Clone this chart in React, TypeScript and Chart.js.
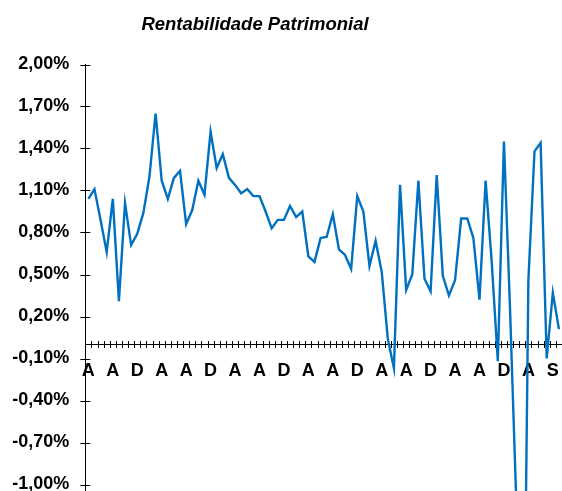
import React, { useEffect, useRef } from 'react';
import { Chart, registerables } from 'chart.js';

Chart.register(...registerables);

const TITLE = 'Rentabilidade Patrimonial';

// Month initials shown every 4th category
const TICK_LABELS = ['A', 'A', 'D', 'A', 'A', 'D', 'A', 'A', 'D', 'A', 'A', 'D', 'A', 'A', 'D', 'A', 'A', 'D', 'A', 'S'];
const LABEL_EVERY = 4;

// Monthly return on equity, in %
const RENTABILIDADE = [
  1.04, 1.11, 0.89, 0.66, 1.04, 0.31, 1.01, 0.71, 0.79, 0.94,
  1.20, 1.65, 1.17, 1.04, 1.19, 1.24, 0.86, 0.96, 1.17, 1.07,
  1.52, 1.26, 1.36, 1.19, 1.14, 1.08, 1.11, 1.06, 1.06, 0.95,
  0.83, 0.89, 0.89, 0.99, 0.91, 0.95, 0.63, 0.59, 0.76, 0.77,
  0.93, 0.68, 0.64, 0.54, 1.06, 0.95, 0.56, 0.74, 0.52, 0.04,
  -0.17, 1.14, 0.39, 0.50, 1.17, 0.47, 0.38, 1.21, 0.49, 0.35,
  0.46, 0.90, 0.90, 0.76, 0.32, 1.17, 0.59, -0.12, 1.45, 0.25,
  -1.10, -3.50, 0.46, 1.38, 1.44, -0.10, 0.37, 0.11,
];

const Y_TICKS = [2.0, 1.7, 1.4, 1.1, 0.8, 0.5, 0.2, -0.1, -0.4, -0.7, -1.0, -1.3];

const CATEGORIES = RENTABILIDADE.map((_, i) =>
  i % LABEL_EVERY === 0 ? TICK_LABELS[i / LABEL_EVERY] ?? '' : ''
);

const FONT_FAMILY = '"Liberation Sans", Arial, sans-serif';

const crossTicks = {
  id: 'crossTicks',
  beforeDatasetsDraw(chart: any) {
    const { ctx, chartArea, scales } = chart;
    const x = scales.x;
    const y = scales.y;
    const y0 = y.getPixelForValue(0);
    ctx.save();
    ctx.strokeStyle = '#000';
    ctx.lineWidth = 1;
    ctx.beginPath();
    const n = chart.data.labels.length;
    for (let i = 1; i <= n; i++) {
      const px = Math.round(x.getPixelForValue(i - 0.5)) + 0.5;
      ctx.moveTo(px, y0 - 3.5);
      ctx.lineTo(px, y0 + 3.5);
    }
    for (const t of y.ticks) {
      const py = Math.round(y.getPixelForValue(t.value)) + 0.5;
      ctx.moveTo(chartArea.left - 5, py);
      ctx.lineTo(chartArea.left + 5, py);
    }
    ctx.stroke();
    ctx.restore();
  },
};

const titlePlugin = {
  id: 'offsetTitle',
  afterDraw(chart: any) {
    const { ctx } = chart;
    ctx.save();
    ctx.font = `italic bold 18.5px ${FONT_FAMILY}`;
    ctx.fillStyle = '#000';
    ctx.textAlign = 'center';
    ctx.textBaseline = 'alphabetic';
    ctx.fillText(TITLE, 255, 30);
    ctx.restore();
  },
};

const zeroPadding = (scale: any) => {
  scale.paddingLeft = 0;
  scale.paddingRight = 0;
  scale.paddingTop = 0;
  scale.paddingBottom = 0;
};

export default function App() {
  const ref = useRef<HTMLCanvasElement>(null);

  useEffect(() => {
    const chart = new Chart(ref.current as HTMLCanvasElement, {
      type: 'line',
      data: {
        labels: CATEGORIES,
        datasets: [
          {
            label: TITLE,
            data: RENTABILIDADE,
            borderColor: '#0070C0',
            backgroundColor: '#0070C0',
            borderWidth: 2.4,
            pointRadius: 0,
            tension: 0,
            fill: false,
          },
        ],
      },
      options: {
        animation: false,
        responsive: false,
        maintainAspectRatio: false,
        devicePixelRatio: 1,
        layout: { padding: { top: 64.5, bottom: 18.5, left: 0, right: 0 } },
        plugins: {
          legend: { display: false },
          title: { display: false },
          tooltip: { enabled: false },
        },
        scales: {
          x: {
            type: 'category',
            position: { y: 0 } as any,
            offset: true,
            afterFit: zeroPadding,
            grid: { display: true, drawOnChartArea: false, drawTicks: false, offset: true },
            border: { display: true, color: '#000', width: 1 },
            ticks: {
              autoSkip: false,
              maxRotation: 0,
              minRotation: 0,
              padding: 16,
              color: '#000',
              font: { family: FONT_FAMILY, size: 18, weight: 'bold' },
            },
          },
          y: {
            type: 'linear',
            min: -1.3,
            max: 2.0,
            afterBuildTicks: (scale: any) => {
              scale.ticks = Y_TICKS.map((v) => ({ value: v }));
            },
            afterFit: (scale: any) => {
              scale.width = 85.3;
              zeroPadding(scale);
            },
            grid: { display: true, drawOnChartArea: false, drawTicks: false },
            border: { display: true, color: '#000', width: 1 },
            ticks: {
              padding: 16,
              color: '#000',
              font: { family: FONT_FAMILY, size: 18, weight: 'bold' },
              callback: (v: any) => Number(v).toFixed(2).replace('.', ',') + '%',
            },
          },
        },
      },
      plugins: [crossTicks, titlePlugin],
    });
    return () => chart.destroy();
  }, []);

  return (
    <div
      style={{
        position: 'fixed',
        left: 0,
        top: 0,
        width: 562,
        height: 491,
        overflow: 'hidden',
        background: '#fff',
      }}
    >
      <canvas ref={ref} width={562} height={545} style={{ display: 'block', width: 562, height: 545 }} />
    </div>
  );
}
